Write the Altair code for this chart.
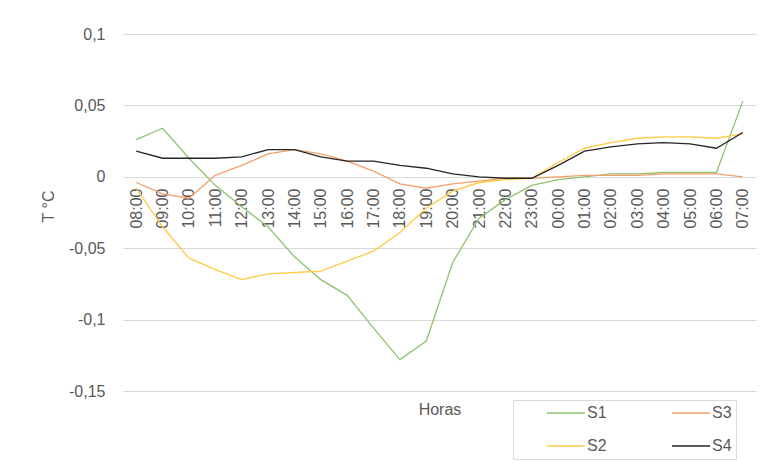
import altair as alt
import pandas as pd

hours = ["08:00", "09:00", "10:00", "11:00", "12:00", "13:00", "14:00", "15:00",
         "16:00", "17:00", "18:00", "19:00", "20:00", "21:00", "22:00", "23:00",
         "00:00", "01:00", "02:00", "03:00", "04:00", "05:00", "06:00", "07:00"]

s1 = [0.026, 0.034, 0.013, -0.006, -0.021, -0.035, -0.056, -0.072,
      -0.083, -0.106, -0.128, -0.115, -0.060, -0.029, -0.016, -0.006,
      -0.002, 0.000, 0.002, 0.002, 0.003, 0.003, 0.003, 0.053]
s2 = [-0.008, -0.035, -0.057, -0.065, -0.072, -0.068, -0.067, -0.066,
      -0.059, -0.052, -0.039, -0.022, -0.010, -0.004, -0.002, -0.001,
      0.010, 0.020, 0.024, 0.027, 0.028, 0.028, 0.027, 0.030]
s3 = [-0.004, -0.012, -0.015, 0.001, 0.008, 0.016, 0.019, 0.016,
      0.011, 0.004, -0.005, -0.008, -0.005, -0.003, -0.001, -0.001,
      0.000, 0.001, 0.001, 0.001, 0.002, 0.002, 0.002, 0.000]
s4 = [0.018, 0.013, 0.013, 0.013, 0.014, 0.019, 0.019, 0.014,
      0.011, 0.011, 0.008, 0.006, 0.002, 0.000, -0.001, -0.001,
      0.008, 0.018, 0.021, 0.023, 0.024, 0.023, 0.020, 0.031]

series_order = ["S1", "S2", "S3", "S4"]
series_colors = ["#8FC46F", "#FFCB45", "#F4A06A", "#262626"]
y_ticks = [-0.15, -0.1, -0.05, 0, 0.05, 0.1]

rows = []
for name, vals in (("S1", s1), ("S2", s2), ("S3", s3), ("S4", s4)):
    for i, (h, v) in enumerate(zip(hours, vals)):
        rows.append({"Hora": h, "Serie": name, "T": v, "idx": i})
df = pd.DataFrame(rows)

FONT = "Liberation Sans"
GRAY = "#595959"

chart = alt.Chart(df).mark_line(strokeWidth=1.3).encode(
    x=alt.X("Hora:N", sort=hours,
            scale=alt.Scale(type="point", padding=0.5),
            axis=alt.Axis(title="Horas", labelAngle=270, offset=-214,
                          domain=False, ticks=False, tickSize=0, labelPadding=11,
                          grid=False, labelFontSize=16, labelColor=GRAY, labelFont=FONT,
                          titleFontSize=16, titleColor=GRAY, titleFont=FONT,
                          titleFontWeight="normal", titleY=237,
                          titleBaseline="alphabetic")),
    y=alt.Y("T:Q", scale=alt.Scale(domain=[-0.15, 0.1], nice=False, zero=False),
            axis=alt.Axis(title="T °C", values=y_ticks,
                          labelExpr="replace(toString(datum.value), '.', ',')",
                          domain=False, ticks=False, labelPadding=18,
                          gridColor="#D9D9D9", gridWidth=1,
                          labelFontSize=16, labelColor=GRAY, labelFont=FONT,
                          titleFontSize=16, titleColor=GRAY, titleFont=FONT,
                          titleFontWeight="normal", titleX=-70, titleY=172,
                          titleAngle=270, titleBaseline="alphabetic",
                          titleAlign="center")),
    color=alt.Color("Serie:N",
                    scale=alt.Scale(domain=series_order, range=series_colors),
                    legend=alt.Legend(title=None, orient="none", legendX=390, legendY=366,
                                      columns=2, symbolType="stroke", symbolSize=1444,
                                      symbolStrokeWidth=1.5, symbolOffset=29,
                                      labelOffset=1, clipHeight=18, rowPadding=15,
                                      columnPadding=35, padding=4,
                                      strokeColor="#D9D9D9", fillColor="white",
                                      labelFontSize=16, labelColor=GRAY, labelFont=FONT,
                                      labelExpr="datum.label + '     '")),
    order=alt.Order("idx:Q"),
).properties(
    width=633, height=357,
    autosize=alt.AutoSizeParams(type="none"),
    padding={"left": 115, "top": 26, "right": 2, "bottom": 69},
    background="white",
).configure_view(stroke=None)

chart.save("out.html", embed_options={"renderer": "svg", "actions": False})
